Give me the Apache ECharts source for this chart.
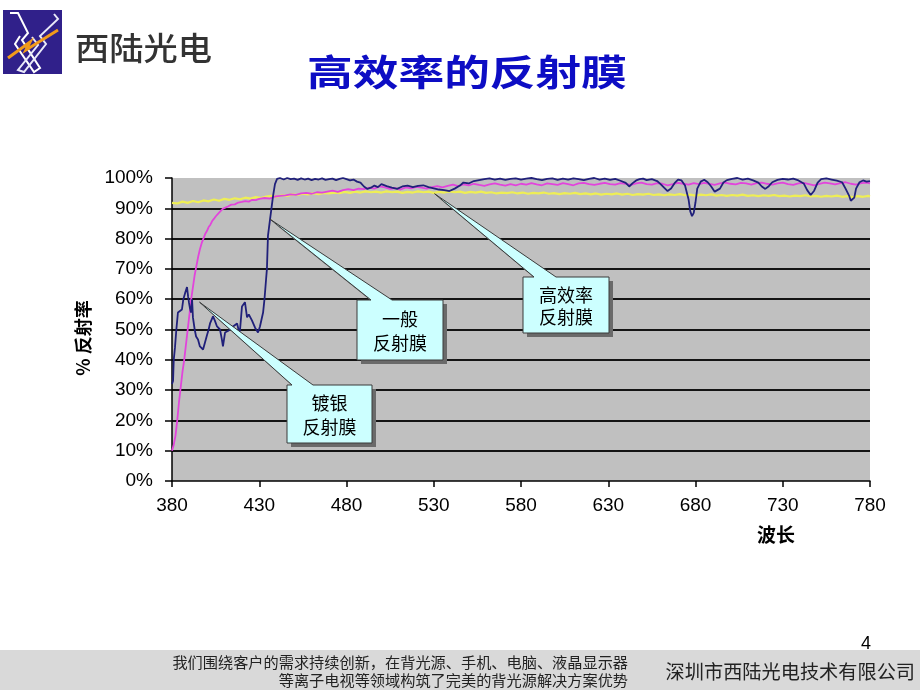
<!DOCTYPE html>
<html>
<head>
<meta charset="utf-8">
<script src="https://cdn.jsdelivr.net/npm/echarts@6/dist/echarts.min.js"></script>
<style>
html,body{margin:0;padding:0;background:#fff;}
#c{width:920px;height:690px;}
</style>
</head>
<body>
<div id="c"></div>
<script>
// ---------- data ----------
const titleText = '高效率的反射膜';
const companyShort = '西陆光电';
const xTicks = [380, 430, 480, 530, 580, 630, 680, 730, 780];
const yTicks = [0, 10, 20, 30, 40, 50, 60, 70, 80, 90, 100];
const xAxisName = '波长';
const yAxisName = '% 反射率';

// 一般反射膜 (navy)
const generalFilm = [
[380,32],[380.6,33],[381,40],[381.7,44],[382.5,50],[383.4,55.6],[384.5,56],[385.7,56.6],[386.5,60],[387.5,62],
[388.6,64],[389.2,61],[389.7,59],[390.3,57],[390.9,55.6],[391.5,60],[392,54],[393,50],[393.8,47.7],[394.9,46.7],
[396,44.4],[397,45],[397.8,43.4],[398.9,45.7],[400,48],[401,50],[401.8,52],[403.5,54.3],[404.5,53],[405.8,51],
[407.5,50],[408.5,47],[409.2,44.4],[410.4,49],[412,49.5],[413.2,50],[415,51],[417.3,52],[418.5,49],[419,50],
[420.1,57.6],[421.8,59],[423,54],[424,55],[425.8,53],[427.6,50.6],[429.3,49],[430.4,51],[432.2,55.6],[433,60],
[433.9,66.5],[434.4,70],[435,81],[436.2,86.4],[437,90],[437.9,94],[439,98],[440.2,99.7],[441.9,100],[444,99.5],
[446,100],[448,99.6],[450,99.8],[452,99.4],[454,99.9],[456,99.5],[458,99.8],[460,99.3],[462,99.7],[464,99.5],
[466,99.9],[468,99.4],[470,99.6],[472,99.8],[474,99.3],[476,99.7],[478,100],[480,99.6],[482,99.2],[484,99.5],
[486,98.8],[488,98.5],[490,97.2],[492,96.4],[494,96.8],[496,97.5],[498,97],[500,98],[503,97.3],[506,96.8],
[509,96.4],[512,97.2],[515,97.5],[518,97],[521,97.4],[524,97.6],[527,97],[530,96.6],[533,96.2],[536,96],
[539,95.7],[542,96.5],[545,97.5],[547,98.5],[550,98.2],[553,99],[556,99.3],[559,99.6],[562,99.9],[565,99.5],
[568,99.8],[571,99.4],[574,99.7],[577,99.9],[580,99.5],[583,99.8],[586,100],[589,99.6],[592,99.3],[595,99.7],
[598,99.9],[601,99.4],[604,99.8],[607,99.5],[610,99.9],[613,99.6],[616,99.3],[619,99.7],[622,100],[625,99.5],
[628,99.8],[631,99.4],[634,99.7],[637,99.1],[640,98.4],[642,97.2],[644,98.3],[646,99.2],[648,99.6],[650,99.8],
[652,99.3],[655,99.6],[658,99],[660,98],[662,96.8],[664,95.7],[666,96.5],[668,98.3],[670,99.5],[672,99.2],
[674,97.5],[676,93],[677,89],[678,87.4],[679,88.5],[680,92],[681,96.5],[683,98.8],[685,99.4],[687,98.6],
[689,97.2],[691,95.5],[692,95],[694,96.5],[696,98.5],[698,99.3],[701,99.7],[704,100],[707,99.5],[710,99.8],
[713,99.2],[716,98.5],[718,97.2],[720,96.4],[722,97.3],[724,98.6],[727,99.4],[730,99.7],[733,99.5],[736,99.8],
[739,99.2],[742,98.2],[744,96],[746,94.4],[748,95.8],[750,98.5],[752,99.6],[755,99.9],[758,99.5],[761,99.1],
[764,98.6],[766,96.5],[768,94.2],[769,92.5],[770,92],[771,93.5],[772,96.5],[774,98.6],[776,99.2],[778,98.8],[780,99]
];

// 镀银反射膜 (magenta)
const silverFilm = [
[380,10],[381,12],[382,15],[383,20],[384,26],[385,31],[386,36],[387,40],[388,45],[389,50],
[390,55],[391,60],[392,64],[393,68],[394,71],[395,74],[396,76.5],[397,78.5],[398,80],[399,81.5],
[400,82.5],[401,83.8],[402,84.6],[403,85.8],[404,86.5],[405,87.3],[406,87.8],[407,88.6],[408,89.1],[409,89.8],
[410,90.2],[412,90.6],[414,91.2],[416,91.3],[418,91.9],[420,92.1],[422,92.4],[424,92.2],[426,92.8],[428,92.7],
[430,93.1],[433,93.4],[436,93.2],[439,93.9],[442,94.1],[445,94.3],[448,94.6],[451,94.4],[454,94.9],[457,95.1],
[460,94.8],[463,95.3],[466,95.2],[469,95.5],[472,95.8],[475,95.4],[478,96],[481,96.3],[484,96],[487,96.5],
[490,96.3],[493,96.8],[496,96.5],[499,97.2],[502,96.9],[505,96.4],[508,96.7],[511,96.2],[514,96.9],[517,96.6],
[520,97.1],[523,96.8],[526,96.5],[529,97],[532,97.3],[535,96.9],[538,97.4],[541,97.8],[544,97.3],[547,97.9],
[550,97.6],[553,98.1],[556,97.7],[559,97.4],[562,97.9],[565,98.2],[568,97.8],[571,97.5],[574,98],[577,97.6],
[580,98.1],[583,97.8],[586,98.3],[589,97.9],[592,97.6],[595,98.2],[598,98],[601,97.7],[604,98.3],[607,98],
[610,97.6],[613,98.2],[616,98.4],[619,98],[622,97.7],[625,98.1],[628,98.4],[631,98],[634,97.8],[637,98.3],
[640,98.1],[643,97.7],[646,98.2],[649,98.5],[652,98],[655,97.8],[658,98.3],[661,98.1],[664,97.6],[667,98],
[670,98.4],[673,98.1],[676,97.8],[679,98.3],[682,98],[685,98.4],[688,98.1],[691,97.7],[694,98.2],[697,98.5],
[700,98.1],[703,97.9],[706,98.4],[709,98.2],[712,97.8],[715,98.3],[718,98.5],[721,98.1],[724,97.8],[727,98.2],
[730,98.5],[733,98],[736,97.7],[739,98.2],[742,98.4],[745,98],[748,97.6],[751,98.1],[754,98.5],[757,98.2],
[760,97.9],[763,98.3],[766,98.6],[769,98.1],[772,97.8],[775,98.3],[778,98.5],[780,98.2]
];

// 高效率反射膜 (yellow)
const highEffFilm = [
[380,91.8],[383,91.6],[386,92.2],[389,91.8],[392,92.4],[395,92],[398,92.6],[401,92.3],[404,92.9],[407,92.5],
[410,93.1],[413,92.8],[416,93.3],[419,93],[422,93.5],[425,93.2],[428,93.7],[431,93.4],[434,93.9],[437,94.1],
[440,93.8],[443,94.3],[446,94.1],[449,94.6],[452,94.4],[455,94.8],[458,94.6],[461,95],[464,94.7],[467,95.1],
[470,94.9],[473,95.2],[476,95],[479,95.4],[482,95.1],[485,95.5],[488,95.2],[491,95.6],[494,95.3],[497,95.5],
[500,95.2],[503,95.6],[506,95.3],[509,95.5],[512,95.1],[515,95.4],[518,95.2],[521,95.6],[524,95.3],[527,95.5],
[530,95.1],[533,95.4],[536,95.2],[539,95.6],[542,95.3],[545,95.5],[548,95.1],[551,95.4],[554,95.2],[557,95.5],
[560,95.1],[563,95.3],[566,94.9],[569,95.2],[572,95],[575,95.3],[578,94.9],[581,95.2],[584,94.8],[587,95.1],
[590,94.9],[593,95.2],[596,94.8],[599,95],[602,94.7],[605,95],[608,94.8],[611,95.1],[614,94.7],[617,94.9],
[620,94.6],[623,94.9],[626,94.5],[629,94.8],[632,94.6],[635,94.9],[638,94.5],[641,94.8],[644,94.4],[647,94.7],
[650,94.5],[653,94.8],[656,94.4],[659,94.6],[662,94.3],[665,94.6],[668,94.4],[671,94.7],[674,94.3],[677,94.5],
[680,94.2],[683,94.5],[686,94.3],[689,94.6],[692,94.2],[695,94.4],[698,94.1],[701,94.4],[704,94.2],[707,94.5],
[710,94.1],[713,94.3],[716,94],[719,94.3],[722,94.1],[725,94.4],[728,94],[731,94.2],[734,93.9],[737,94.2],
[740,94],[743,94.3],[746,93.9],[749,94.1],[752,93.8],[755,94.1],[758,93.9],[761,94.2],[764,93.8],[767,94],
[770,93.7],[773,94],[776,93.8],[779,94.1],[780,93.9]
];

// callouts: label lines and the data point each one points at
const calloutLines = [['一般', '反射膜'], ['镀银', '反射膜'], ['高效率', '反射膜']];
const calloutAnchors = [[436.2, 86.4], [395.8, 59], [530.5, 94.8]];

const footerLeft = ['我们围绕客户的需求持续创新，在背光源、手机、电脑、液晶显示器', '等离子电视等领域构筑了完美的背光源解决方案优势'];
const footerRight = '深圳市西陆光电技术有限公司';
const pageNo = '4';

// ---------- chart ----------
const chart = echarts.init(document.getElementById('c'), null, {renderer: 'canvas'});
const numFont = "'Liberation Sans',Arial,sans-serif";
const cjk = "'Noto Sans CJK SC','Noto Sans',sans-serif";

chart.setOption({
  animation: false,
  backgroundColor: '#ffffff',
  grid: {left: 172, right: 50, top: 178, bottom: 209, show: true, backgroundColor: '#c0c0c0', borderWidth: 0},
  xAxis: {
    type: 'value', min: xTicks[0], max: xTicks[xTicks.length - 1], interval: 50,
    axisLine: {show: true, lineStyle: {color: '#000', width: 1.5}},
    axisTick: {show: true, length: 6, lineStyle: {color: '#000', width: 1.5}},
    axisLabel: {color: '#000', fontFamily: numFont, fontSize: 19, margin: 15},
    splitLine: {show: false}
  },
  yAxis: {
    type: 'value', min: yTicks[0], max: yTicks[yTicks.length - 1], interval: 10,
    axisLine: {show: true, lineStyle: {color: '#000', width: 1.5}},
    axisTick: {show: true, length: 7, lineStyle: {color: '#000', width: 1.5}},
    axisLabel: {color: '#000', fontFamily: numFont, fontSize: 19, margin: 19, formatter: '{value}%'},
    splitLine: {show: true, showMaxLine: false, showMinLine: false, lineStyle: {color: '#141414', width: 2}}
  },
  series: [
    {type: 'line', name: '高效率反射膜', data: highEffFilm, symbol: 'none', lineStyle: {color: '#eeee55', width: 2.2}, z: 2},
    {type: 'line', name: '镀银反射膜', data: silverFilm, symbol: 'none', lineStyle: {color: '#e244dc', width: 1.8}, z: 3},
    {type: 'line', name: '一般反射膜', data: generalFilm, symbol: 'none', lineStyle: {color: '#20207a', width: 1.8}, z: 4}
  ]
});

// ---------- decorations ----------
const boxes = [
  {x: 357, y: 300, w: 86, h: 60, b1: 371, b2: 392},
  {x: 287, y: 385, w: 85, h: 58, b1: 292, b2: 313},
  {x: 523, y: 277, w: 86, h: 56, b1: 534, b2: 556}
];

function calloutPoly(b, tip, dx, dy) {
  return [
    [b.x + dx, b.y + dy], [b.b1 + dx, b.y + dy], [tip[0] + dx, tip[1] + dy], [b.b2 + dx, b.y + dy],
    [b.x + b.w + dx, b.y + dy], [b.x + b.w + dx, b.y + b.h + dy], [b.x + dx, b.y + b.h + dy]
  ];
}

const g = [];
// logo
g.push({type: 'rect', shape: {x: 3, y: 10, width: 59, height: 64}, style: {fill: '#30208a'}});
g.push({type: 'polyline', shape: {points: [[10,13],[18,13],[28,33],[22,40],[40,68],[34,72],[15,44],[20,36]]}, style: {stroke: '#ffffff', lineWidth: 2, fill: null}});
g.push({type: 'polyline', shape: {points: [[54,14],[58,19],[40,36],[46,44],[24,72],[18,70],[38,45],[32,37]]}, style: {stroke: '#e8e8f8', lineWidth: 2, fill: null}});
g.push({type: 'polyline', shape: {points: [[8,58],[30,42],[26,50],[58,30]]}, style: {stroke: '#f29a1a', lineWidth: 3, fill: null}});
g.push({type: 'text', x: 75, y: 48, style: {text: companyShort, font: "500 32px 'Noto Sans CJK SC'", fill: '#333333', textVerticalAlign: 'middle'}, scaleX: 1.07});
// title
g.push({type: 'text', x: 467, y: 72, scaleX: 1.27, style: {text: titleText, font: "bold 36px 'Noto Sans CJK SC'", fill: '#0d0dc4', textAlign: 'center', textVerticalAlign: 'middle'}});
// axis names
g.push({type: 'text', x: 776, y: 535, style: {text: xAxisName, font: "bold 19px 'Noto Sans CJK SC'", fill: '#000', textAlign: 'center', textVerticalAlign: 'middle'}});
g.push({type: 'text', x: 83, y: 338, rotation: Math.PI / 2, style: {text: yAxisName, font: "bold 18px 'Noto Sans CJK SC'", fill: '#000', textAlign: 'center', textVerticalAlign: 'middle'}});
// footer
g.push({type: 'rect', shape: {x: 0, y: 650, width: 920, height: 40}, style: {fill: '#d9d9d9'}});
g.push({type: 'text', x: 628, y: 662, style: {text: footerLeft[0], font: "15.2px 'Noto Sans CJK SC'", fill: '#222', textAlign: 'right', textVerticalAlign: 'middle'}});
g.push({type: 'text', x: 628, y: 680, style: {text: footerLeft[1], font: "15.2px 'Noto Sans CJK SC'", fill: '#222', textAlign: 'right', textVerticalAlign: 'middle'}});
g.push({type: 'text', x: 915, y: 672, style: {text: footerRight, font: "19.2px 'Noto Sans CJK SC'", fill: '#222', textAlign: 'right', textVerticalAlign: 'middle'}});
g.push({type: 'text', x: 866, y: 644, style: {text: pageNo, font: "18px 'Liberation Sans'", fill: '#000', textAlign: 'center', textVerticalAlign: 'middle'}});

// callouts
calloutAnchors.forEach(function (a, i) {
  const tip = chart.convertToPixel({xAxisIndex: 0, yAxisIndex: 0}, a);
  const b = boxes[i];
  g.push({type: 'polygon', z: 10, shape: {points: calloutPoly(b, tip, 4, 4)}, style: {fill: '#6a6a6a', stroke: null}});
  g.push({type: 'polygon', z: 11, shape: {points: calloutPoly(b, tip, 0, 0)}, style: {fill: '#ccffff', stroke: '#3a3a3a', lineWidth: 1}});
  const cx = b.x + b.w / 2;
  g.push({type: 'text', z: 12, x: cx, y: b.y + b.h * 0.32, style: {text: calloutLines[i][0], font: "18px 'Noto Sans CJK SC'", fill: '#000', textAlign: 'center', textVerticalAlign: 'middle'}});
  g.push({type: 'text', z: 12, x: cx, y: b.y + b.h * 0.72, style: {text: calloutLines[i][1], font: "18px 'Noto Sans CJK SC'", fill: '#000', textAlign: 'center', textVerticalAlign: 'middle'}});
});

chart.setOption({graphic: {elements: g}});
</script>
</body>
</html>
